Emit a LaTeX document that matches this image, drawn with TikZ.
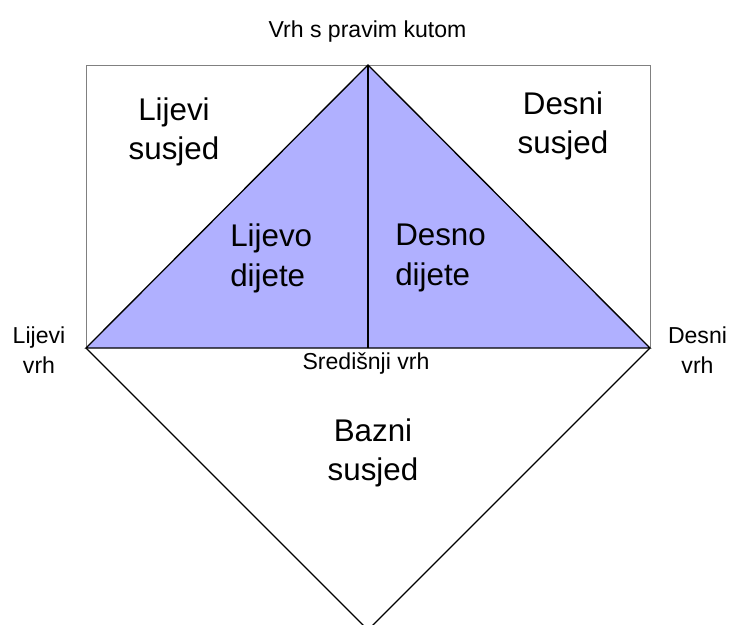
\documentclass[tikz,border=0pt]{standalone}
\usepackage{fontspec}
\setmainfont{Liberation Sans}
\definecolor{triblue}{RGB}{176,176,255}
\definecolor{rectgray}{RGB}{128,128,128}
\begin{document}
\begin{tikzpicture}[x=0.75pt,y=-0.75pt,
  big/.style={font=\fontsize{23.5}{29}\selectfont,align=center,anchor=base,inner sep=0pt},
  bigleft/.style={font=\fontsize{23.5}{29.5}\selectfont,align=left,anchor=base west,inner sep=0pt},
  small/.style={font=\fontsize{17.3}{22.5}\selectfont,align=center,anchor=base,inner sep=0pt},
  frame/.style={draw=rectgray,line width=0.7pt},
  edge/.style={draw=black,line width=1pt},
]
\useasboundingbox (0,0) rectangle (729,625);
\coordinate (TL) at (86,65);
\coordinate (apex) at (368,65);
\coordinate (TR) at (650,65);
\coordinate (lv) at (86,348);
\coordinate (rv) at (650,348);
\coordinate (mid) at (368,348);
\coordinate (bot) at (368,630);
% frame
\draw[frame] (lv) -- (TL) -- (TR) -- (rv);
% triangle
\fill[triblue] (lv) -- (apex) -- (rv) -- cycle;
\draw[edge] (lv) -- (apex) -- (rv) -- cycle;
\draw[edge] (apex) -- (mid);
% base neighbour
\begin{scope}
\clip (0,0) rectangle (729,625);
\draw[edge] (lv) -- (bot) -- (rv);
\end{scope}
% labels
\node[small] (apexlbl) at (367.5,37.5) {Vrh s pravim kutom};
\node[big] (ls) at (174,159) {Lijevi\\susjed};
\node[big] (ds) at (563,153) {Desni\\susjed};
\node[bigleft] (ld) at (230,286) {Lijevo\\dijete};
\node[bigleft] (dd) at (395,285) {Desno\\dijete};
\node[small] (lvl) at (39,373) {Lijevi\\vrh};
\node[small] (rvl) at (697.5,373) {Desni\\vrh};
\node[small] (ml) at (366,369) {Središnji vrh};
\node[big] (bs) at (373,480) {Bazni\\susjed};
\end{tikzpicture}
\end{document}
